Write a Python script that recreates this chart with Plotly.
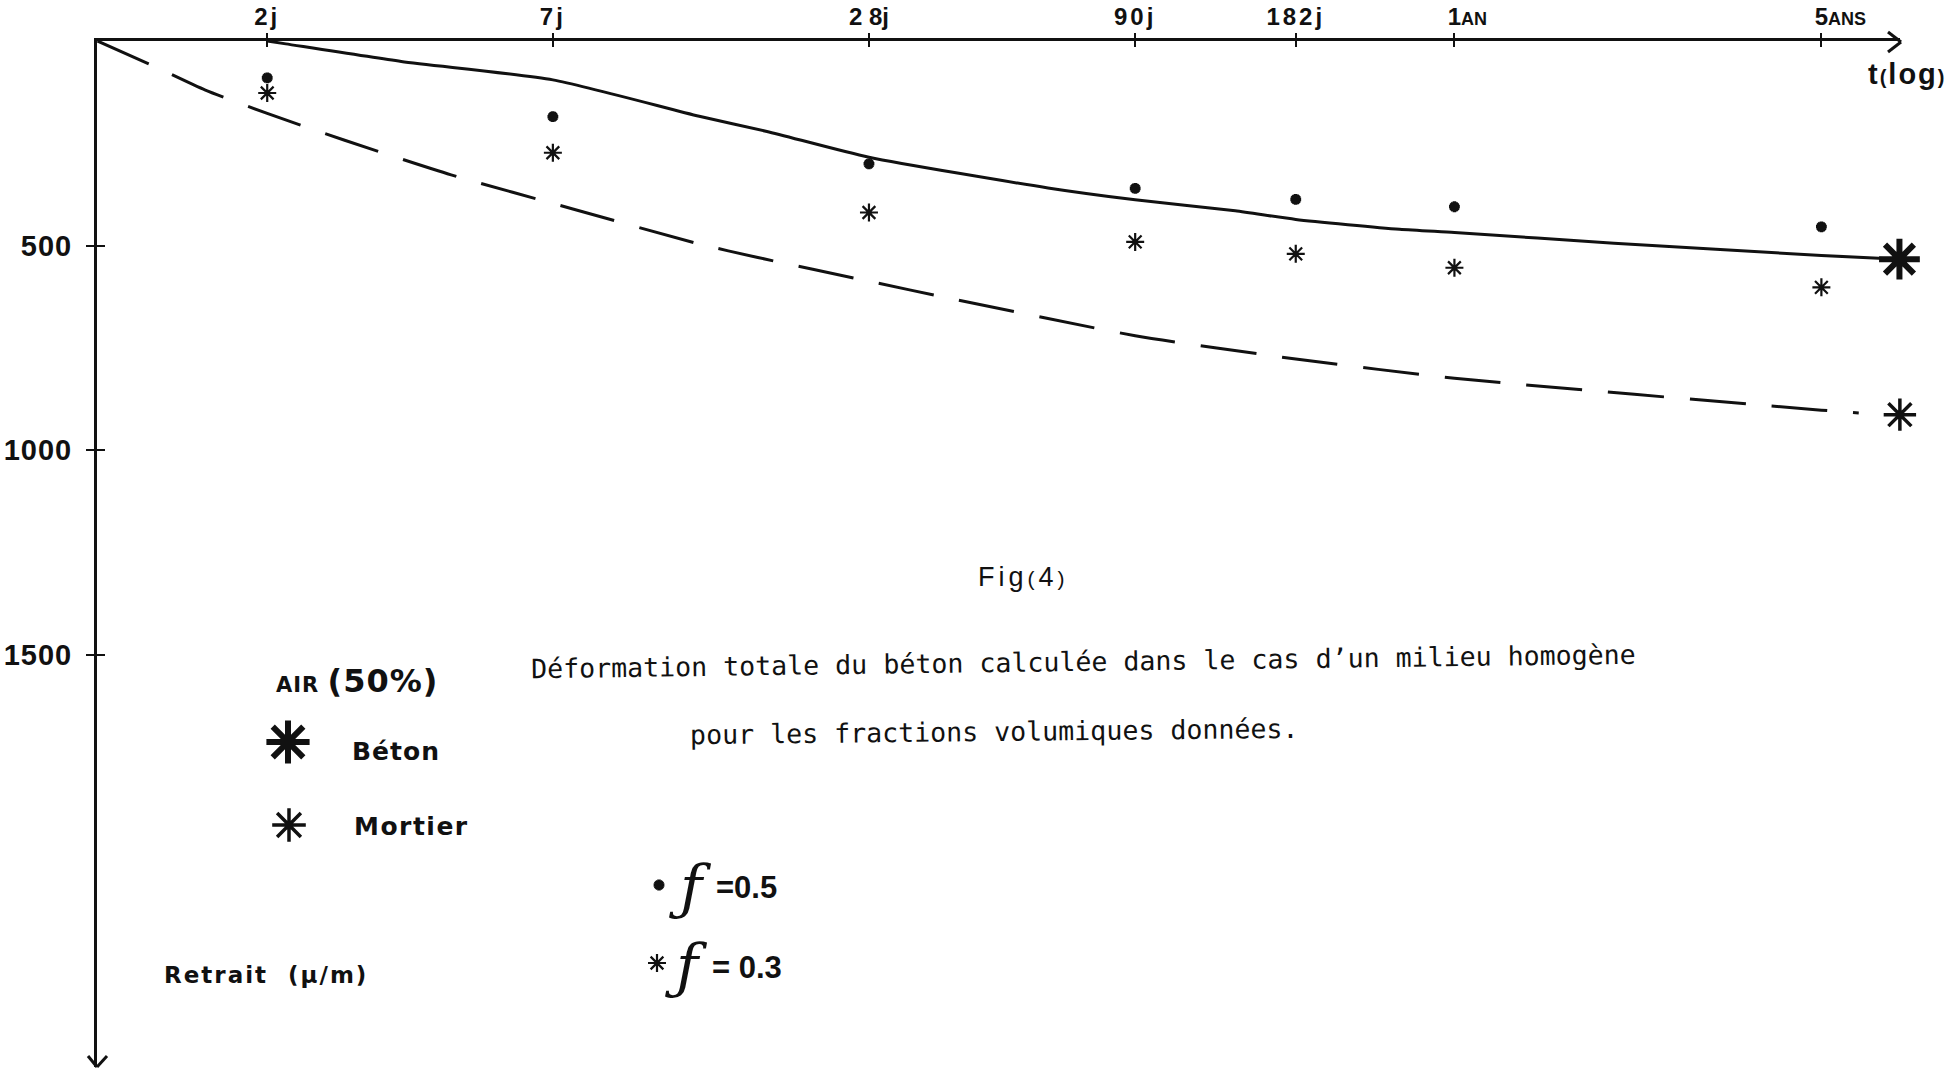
import plotly.graph_objects as go

# ---------------- data ----------------
tick_days = [2, 7, 28, 90, 182, 365, 1825]
tick_labels = ["2j", "7j", "2 8j", "90j", "182j", "1AN", "5ANS"]

y_tick_vals = [500, 1000, 1500]
y_tick_labels = ["500", "1000", "1500"]

# solid curve : béton (calculated)
beton_t = [2, 2.17, 3.6, 7, 13.3, 17.9, 28, 61.4, 90, 139.6, 182, 287, 365, 735, 1825, 2570]
beton_v = [0, 7, 50, 95, 184, 221, 284, 359, 388, 415, 436, 460, 468, 494, 524, 533]

# dashed curve : mortier (calculated)
mortier_t = [0.95, 1.21, 1.525, 2.0, 2.8, 4.48, 7.67, 13.3, 17.2, 28, 40, 90, 182, 365, 1825, 2150]
mortier_v = [0, 60, 120, 177, 242, 327, 411, 496, 529, 587, 629, 720, 777, 824, 902, 909]

# computed points, f = 0.5 (dots) and f = 0.3 (asterisks)
pts_t = [2, 7, 28, 90, 182, 365, 1825]
f05_v = [90, 185, 300, 360, 387, 405, 454]
f03_v = [127, 273, 419, 491, 520, 554, 602]

# end values at the arrow (t ~ 7 ans)
end_beton_t, end_beton_v = 2570, 533
end_mortier_t, end_mortier_v = 2575, 913

# ---------------- layout geometry (pixels) ----------------
W, H = 1953, 1070
L, R = 97, 1900          # plot area left/right
T, B = 41, 1067          # plot area top/bottom
x_range = [-0.0232, 3.411]   # log10(days)
y_range = [2507, 0]

FONT = "Liberation Sans"
WIDE = "DejaVu Sans"
MONO = "DejaVu Sans Mono"
BLACK = "#111111"


def spaced(s, px):
    return "<span style='letter-spacing:%spx'>%s</span>" % (px, s)


def fmt_tick(lbl):
    # "1AN", "5ANS": big digit centred on the tick, small letters to its right
    if lbl[0].isdigit() and lbl[1:].isalpha() and lbl[1:].isupper():
        small = lbl[1:]
        return ("<span style='font-size:18px;color:rgba(0,0,0,0)'>%s</span>%s"
                "<span style='font-size:18px'>%s</span>" % (small, lbl[0], small))
    if " " in lbl:
        return lbl
    return spaced(lbl, 3)


fig = go.Figure()

# curves
fig.add_trace(go.Scatter(x=mortier_t, y=mortier_v, mode="lines",
                         line=dict(color=BLACK, width=3, dash="56px,26px", shape="spline", smoothing=0.6),
                         hoverinfo="skip", showlegend=False))
fig.add_trace(go.Scatter(x=beton_t, y=beton_v, mode="lines",
                         line=dict(color=BLACK, width=3, shape="spline", smoothing=0.6),
                         hoverinfo="skip", showlegend=False))


def ast(size, width):
    return dict(symbol="asterisk-open", size=size, color=BLACK, line=dict(color=BLACK, width=width))


# computed points
fig.add_trace(go.Scatter(x=pts_t, y=f05_v, mode="markers", marker=ast(9, 3.6),
                         cliponaxis=False, showlegend=False))
fig.add_trace(go.Scatter(x=pts_t, y=f03_v, mode="markers", marker=ast(15, 2.2),
                         cliponaxis=False, showlegend=False))

# end markers
fig.add_trace(go.Scatter(x=[end_beton_t], y=[end_beton_v], mode="markers", marker=ast(34, 6),
                         cliponaxis=False, showlegend=False))
fig.add_trace(go.Scatter(x=[end_mortier_t], y=[end_mortier_v], mode="markers", marker=ast(27, 3.5),
                         cliponaxis=False, showlegend=False))

# dummy traces for the inner half of crossing ticks
fig.add_trace(go.Scatter(x=[2], y=[0], xaxis="x3", yaxis="y", mode="markers",
                         marker=dict(opacity=0), hoverinfo="skip", showlegend=False))
fig.add_trace(go.Scatter(x=[2], y=[0], xaxis="x", yaxis="y3", mode="markers",
                         marker=dict(opacity=0), hoverinfo="skip", showlegend=False))

# legend symbols (pixel overlay axes)
fig.add_trace(go.Scatter(x=[288], y=[742], xaxis="x2", yaxis="y2", mode="markers", marker=ast(36, 6),
                         cliponaxis=False, hoverinfo="skip", showlegend=False))
fig.add_trace(go.Scatter(x=[289], y=[825], xaxis="x2", yaxis="y2", mode="markers", marker=ast(28, 3.5),
                         cliponaxis=False, hoverinfo="skip", showlegend=False))
fig.add_trace(go.Scatter(x=[659], y=[885], xaxis="x2", yaxis="y2", mode="markers", marker=ast(9, 3.6),
                         cliponaxis=False, hoverinfo="skip", showlegend=False))
fig.add_trace(go.Scatter(x=[657], y=[963], xaxis="x2", yaxis="y2", mode="markers", marker=ast(15, 2.2),
                         cliponaxis=False, hoverinfo="skip", showlegend=False))

fig.update_layout(
    width=W, height=H,
    margin=dict(l=L, r=W - R, t=T, b=H - B, pad=0, autoexpand=False),
    paper_bgcolor="white", plot_bgcolor="white",
    font=dict(family=FONT, color=BLACK),
    showlegend=False,
    xaxis=dict(type="log", range=x_range, side="top", showgrid=False, zeroline=False,
               showline=True, linecolor=BLACK, linewidth=3, mirror=False, automargin=False,
               ticks="outside", ticklen=5, tickwidth=2, tickcolor=BLACK,
               tickvals=tick_days, ticktext=[fmt_tick(s) for s in tick_labels],
               tickfont=dict(family=FONT, size=24, color=BLACK, weight="bold"),
               ticklabelstandoff=-2, anchor="y"),
    yaxis=dict(range=y_range, showgrid=False, zeroline=False, automargin=False,
               showline=True, linecolor=BLACK, linewidth=3,
               ticks="outside", ticklen=8, tickwidth=2, tickcolor=BLACK,
               tickvals=y_tick_vals, ticktext=[spaced(s, 1) for s in y_tick_labels],
               tickfont=dict(family=FONT, size=29, color=BLACK, weight="bold"),
               ticklabelstandoff=8, anchor="x"),
    xaxis3=dict(type="log", range=x_range, overlaying="x", side="top", anchor="y", automargin=False,
                showgrid=False, zeroline=False, showline=False, ticks="inside", ticklen=6,
                tickwidth=2, tickcolor=BLACK, tickvals=tick_days, showticklabels=False),
    yaxis3=dict(range=y_range, overlaying="y", anchor="x", side="left", automargin=False,
                showgrid=False, zeroline=False, showline=False, ticks="inside", ticklen=8,
                tickwidth=2, tickcolor=BLACK, tickvals=y_tick_vals, showticklabels=False),
    xaxis2=dict(range=[L, R], overlaying="x", anchor="y2", visible=False, automargin=False),
    yaxis2=dict(range=[B, T], overlaying="y", anchor="x2", visible=False, automargin=False),
)


def xp(px):
    return (px - L) / (R - L)


def yp(py):
    return 1 - (py - T) / (B - T)


# arrowheads
arrow = dict(type="line", xref="paper", yref="paper", line=dict(color=BLACK, width=3))
fig.add_shape(x0=xp(1888), y0=yp(32), x1=xp(1901), y1=yp(42), **arrow)
fig.add_shape(x0=xp(1888), y0=yp(52), x1=xp(1901), y1=yp(42), **arrow)
fig.add_shape(x0=xp(88), y0=yp(1056), x1=xp(97), y1=yp(1067), **arrow)
fig.add_shape(x0=xp(107), y0=yp(1056), x1=xp(97), y1=yp(1067), **arrow)


def txt(x, y, text, size, family=FONT, weight="normal", angle=0, xanchor="center"):
    fig.add_annotation(x=xp(x), y=yp(y), xref="paper", yref="paper", text=text,
                       showarrow=False, xanchor=xanchor, yanchor="middle", textangle=angle,
                       font=dict(family=family, size=size, color=BLACK, weight=weight))


txt(1907, 74, spaced("t<span style='font-size:20px'>(</span>log<span style='font-size:20px'>)</span>", 2),
    29, weight="bold")
txt(1023, 577, spaced("Fig<span style='font-size:21px'>(</span>4<span style='font-size:21px'>)</span>", 4), 27)
txt(1083, 661, "Déformation totale du béton calculée dans le cas d\u2019un milieu homogène", 26.6,
    family=MONO, angle=-0.75)
txt(994, 731, "pour les fractions volumiques données.", 26.6, family=MONO, angle=-0.6)
txt(274, 681, spaced("AIR <span style='font-size:32px'>(50%)</span>", 1), 21, family=WIDE, weight="bold",
    xanchor="left")
txt(350, 751, spaced("Béton", 1), 25, family=WIDE, weight="bold", xanchor="left")
txt(352, 826, spaced("Mortier", 1.5), 25, family=WIDE, weight="bold", xanchor="left")
txt(162, 975, spaced("Retrait  (µ/m)", 2), 23, family=WIDE, weight="bold", xanchor="left")
txt(690, 887, "<i>ƒ</i>", 60, family="DejaVu Serif")
txt(686, 966, "<i>ƒ</i>", 60, family="DejaVu Serif")
txt(714, 887, "=0.5", 31, weight="bold", xanchor="left")
txt(710, 967, "= 0.3", 31, weight="bold", xanchor="left")

fig.write_html("out.html", config=dict(displayModeBar=False),
               post_script="document.body.style.margin='0';document.body.style.overflow='hidden';")
